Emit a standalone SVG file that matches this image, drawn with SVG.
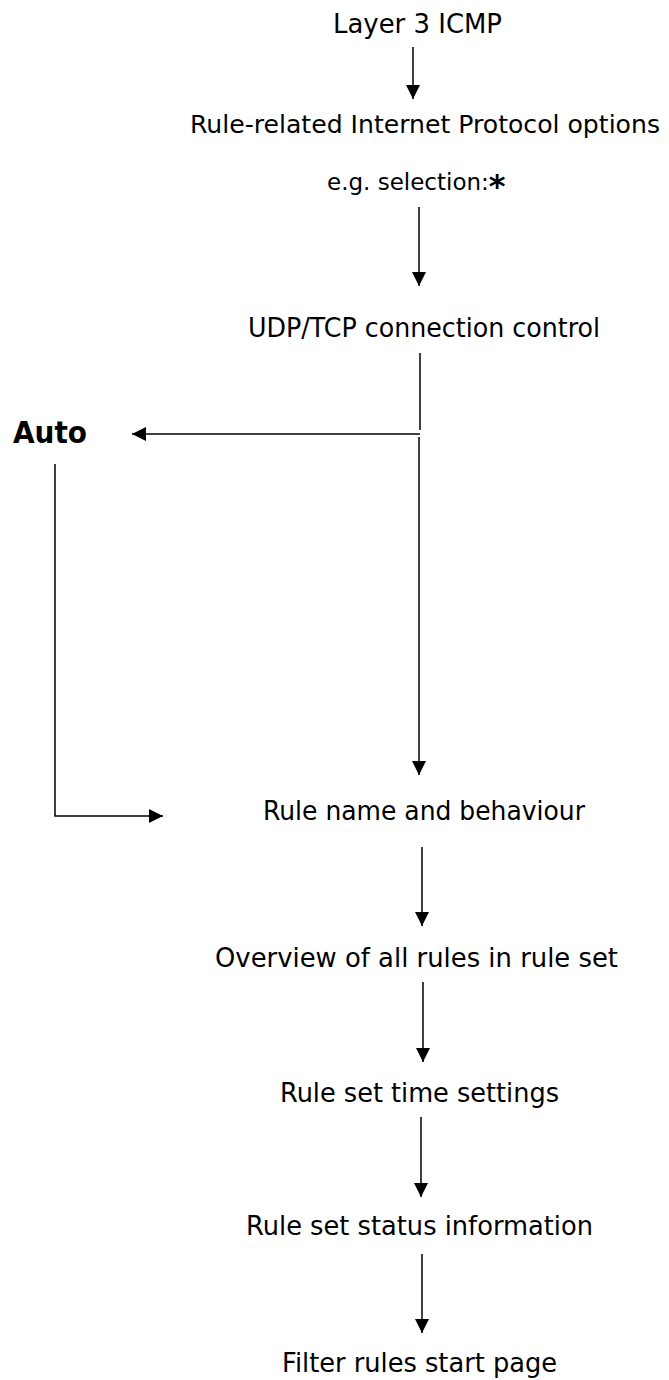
<svg xmlns="http://www.w3.org/2000/svg" width="669" height="1380" viewBox="0 0 669 1380">
<style>
.t{font-family:"DejaVu Sans","Verdana",sans-serif;font-size:26px;fill:#000}
.b{font-family:"DejaVu Sans","Verdana",sans-serif;font-size:30px;font-weight:bold;fill:#000}
.c{fill:none;stroke:#000;stroke-width:1.5}
</style>
<defs>
<marker id="ah" markerUnits="userSpaceOnUse" markerWidth="14" markerHeight="14" refX="14" refY="7" orient="auto">
<path d="M0,0 L14,7 L0,14 z" fill="#000"/>
</marker>
</defs>
<rect width="669" height="1380" fill="#fff"/>
<g id="n-layer3"><text class="t" x="333" y="33" textLength="169" lengthAdjust="spacingAndGlyphs">Layer 3 ICMP</text></g>
<g id="n-ipoptions"><text class="t" x="190" y="133" style="font-size:24.5px" textLength="470" lengthAdjust="spacingAndGlyphs">Rule-related Internet Protocol options</text></g>
<g id="n-selection"><text class="t" x="327" y="190" style="font-size:23px">e.g. selection:<tspan style="font-size:32px;font-weight:bold" dy="7">*</tspan></text></g>
<g id="n-udptcp"><text class="t" x="248" y="337" textLength="352" lengthAdjust="spacingAndGlyphs">UDP/TCP connection control</text></g>
<g id="n-auto"><text class="b" x="13" y="443" textLength="74" lengthAdjust="spacingAndGlyphs">Auto</text></g>
<g id="n-rulename"><text class="t" x="263" y="820" textLength="322" lengthAdjust="spacingAndGlyphs">Rule name and behaviour</text></g>
<g id="n-overview"><text class="t" x="215" y="967" textLength="403" lengthAdjust="spacingAndGlyphs">Overview of all rules in rule set</text></g>
<g id="n-time"><text class="t" x="280" y="1102" textLength="279" lengthAdjust="spacingAndGlyphs">Rule set time settings</text></g>
<g id="n-status"><text class="t" x="246" y="1235" textLength="347" lengthAdjust="spacingAndGlyphs">Rule set status information</text></g>
<g id="n-start"><text class="t" x="282" y="1372" textLength="275" lengthAdjust="spacingAndGlyphs">Filter rules start page</text></g>
<g id="connectors">
<line class="c" x1="413" y1="47" x2="413" y2="99" marker-end="url(#ah)"/>
<line class="c" x1="419" y1="207" x2="419" y2="286" marker-end="url(#ah)"/>
<line class="c" x1="420" y1="353" x2="420" y2="430"/>
<line class="c" x1="420" y1="434" x2="132" y2="434" marker-end="url(#ah)"/>
<line class="c" x1="419" y1="437" x2="419" y2="775" marker-end="url(#ah)"/>
<polyline class="c" points="55,464 55,816 163,816" marker-end="url(#ah)"/>
<line class="c" x1="422" y1="847" x2="422" y2="926" marker-end="url(#ah)"/>
<line class="c" x1="423" y1="982" x2="423" y2="1062" marker-end="url(#ah)"/>
<line class="c" x1="421" y1="1117" x2="421" y2="1197" marker-end="url(#ah)"/>
<line class="c" x1="422" y1="1254" x2="422" y2="1333" marker-end="url(#ah)"/>
</g>
</svg>
